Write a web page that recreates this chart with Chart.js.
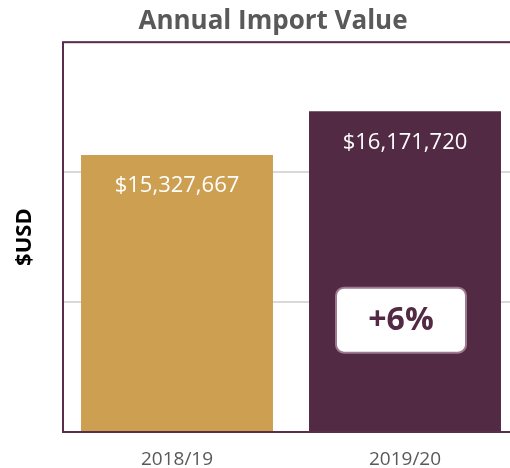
<!DOCTYPE html>
<html>
<head>
<meta charset="utf-8">
<script src="https://cdn.jsdelivr.net/npm/chart.js@4"></script>
<style>
  html, body { margin: 0; padding: 0; background: #fff; overflow: hidden; }
  #wrap { width: 546px; height: 468px; }
</style>
</head>
<body>
<div id="wrap"><canvas id="importChart" width="546" height="468"></canvas></div>
<script>
'use strict';

const years = ['2018/19', '2019/20'];
const importValues = [15327667, 16171720];
const barColors = ['#CD9F51', '#532A44'];
const axisMin = 10000000;
const axisMax = 17500000;
const axisStep = 2500000;
const changeLabel = '+6%';

const FONT = "'Open Sans', 'Liberation Sans', sans-serif";
const PURPLE = '#5A2D4A';
const GREY_TEXT = '#595959';

// frame round the plot area (top, left, bottom)
const framePlugin = {
    id: 'frame',
    afterDatasetsDraw(chart) {
        const { ctx, chartArea: a } = chart;
        ctx.save();
        ctx.strokeStyle = PURPLE;
        ctx.lineWidth = 2;
        ctx.strokeRect(a.left, a.top, a.right - a.left + 40, a.bottom - a.top);
        ctx.restore();
    }
};

// value labels inside bars + change badge
const labelPlugin = {
    id: 'barLabels',
    afterDatasetsDraw(chart) {
        const { ctx, chartArea: a } = chart;
        const meta = chart.getDatasetMeta(0);
        ctx.save();
        ctx.font = '22px ' + FONT;
        ctx.fillStyle = '#ffffff';
        ctx.textAlign = 'center';
        ctx.textBaseline = 'middle';
        meta.data.forEach((bar, i) => {
            ctx.fillText('$' + importValues[i].toLocaleString('en-US'), bar.x, bar.y + 31);
        });

        const last = meta.data[meta.data.length - 1];
        const cx = last.x - 4;
        const cy = a.bottom - (a.bottom - a.top) * 0.287;
        const w = 130, h = 65, r = 8;
        ctx.beginPath();
        ctx.roundRect(cx - w / 2, cy - h / 2, w, h, r);
        ctx.fillStyle = '#ffffff';
        ctx.fill();
        ctx.lineWidth = 2;
        ctx.strokeStyle = '#9C7A90';
        ctx.stroke();
        ctx.font = 'bold 32px ' + FONT;
        ctx.fillStyle = '#532A44';
        ctx.fillText(changeLabel, cx, cy + 1);
        ctx.restore();
    }
};

new Chart(document.getElementById('importChart').getContext('2d'), {
    type: 'bar',
    data: {
        labels: years,
        datasets: [{
            data: importValues,
            backgroundColor: barColors,
            borderWidth: 0,
            categoryPercentage: 1,
            barPercentage: 0.842
        }]
    },
    options: {
        responsive: false,
        animation: false,
        plugins: {
            legend: { display: false },
            tooltip: { enabled: false },
            title: {
                display: true,
                text: 'Annual Import Value',
                color: GREY_TEXT,
                font: { family: FONT, size: 26, weight: 'bold' },
                padding: { top: 6, bottom: 5 }
            }
        },
        scales: {
            x: {
                grid: { display: false },
                border: { display: false },
                ticks: {
                    color: GREY_TEXT,
                    font: { family: FONT, size: 19 },
                    padding: 8
                },
                afterFit(scale) { scale.height = 36; }
            },
            y: {
                min: axisMin,
                max: axisMax,
                grid: { color: '#D9D9D9', lineWidth: 2, drawTicks: false },
                border: { display: false },
                ticks: { display: false, stepSize: axisStep },
                title: {
                    display: true,
                    text: '$USD',
                    color: '#000000',
                    font: { family: FONT, size: 22, weight: 'bold' },
                    padding: { top: 12, bottom: 0 }
                },
                afterFit(scale) { scale.width = 63; }
            },
            // empty spacer on the right, keeps the title centred on the full width
            spacer: {
                type: 'linear',
                position: 'right',
                display: true,
                grid: { display: false },
                border: { display: false },
                ticks: { display: false },
                afterFit(scale) { scale.width = 27; }
            }
        }
    },
    plugins: [framePlugin, labelPlugin]
});
</script>
</body>
</html>
